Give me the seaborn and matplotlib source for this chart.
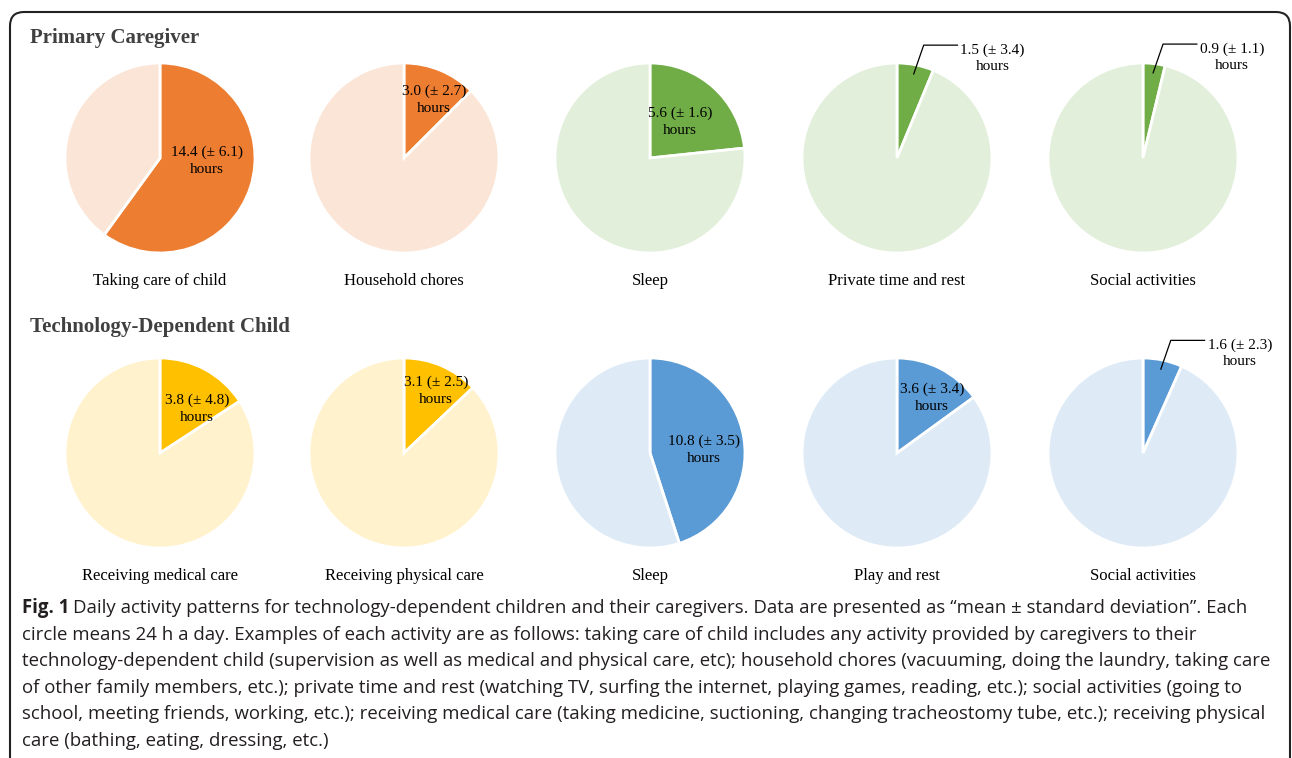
import numpy as np
import matplotlib
matplotlib.use("Agg")
import matplotlib.pyplot as plt
import seaborn as sns
from matplotlib.patches import FancyBboxPatch

sns.set_theme(style="white")
plt.rcParams['font.family'] = ['Liberation Serif', 'DejaVu Serif']

# daily hours (mean, sd), each pie = 24 h
TOTAL = 24
carer_labels = ["Taking care of child", "Household chores", "Sleep",
                "Private time and rest", "Social activities"]
carer_mean = [14.4, 3.0, 5.6, 1.5, 0.9]
carer_sd = [6.1, 2.7, 1.6, 3.4, 1.1]

child_labels = ["Receiving medical care", "Receiving physical care", "Sleep",
                "Play and rest", "Social activities"]
child_mean = [3.8, 3.1, 10.8, 3.6, 1.6]
child_sd = [4.8, 2.5, 3.5, 3.4, 2.3]

row_titles = ["Primary Caregiver", "Technology-Dependent Child"]

caption_lines = [
    "Daily activity patterns for technology-dependent children and their caregivers. Data are presented as \u201cmean \u00b1 standard deviation\u201d. Each",
    "circle means 24 h a day. Examples of each activity are as follows: taking care of child includes any activity provided by caregivers to their",
    "technology-dependent child (supervision as well as medical and physical care, etc); household chores (vacuuming, doing the laundry, taking care",
    "of other family members, etc.); private time and rest (watching TV, surfing the internet, playing games, reading, etc.); social activities (going to",
    "school, meeting friends, working, etc.); receiving medical care (taking medicine, suctioning, changing tracheostomy tube, etc.); receiving physical",
    "care (bathing, eating, dressing, etc.)",
]

# colours (dark slice, light remainder)
colors = [
    [("#ED7D31", "#FBE5D6"), ("#ED7D31", "#FBE5D6"), ("#70AD47", "#E2EFDA"),
     ("#70AD47", "#E2EFDA"), ("#70AD47", "#E2EFDA")],
    [("#FFC000", "#FFF2CC"), ("#FFC000", "#FFF2CC"), ("#5B9BD5", "#DEEBF7"),
     ("#5B9BD5", "#DEEBF7"), ("#5B9BD5", "#DEEBF7")],
]

# layout (pixel coords, y from top)
W, H = 1292, 758
col_x = [160, 404, 650, 897, 1143]
row_y = [158, 453]
title_y = [38, 327]
R = 95
# label offsets from pie centre for inside labels, None = outside leader label
label_off = [
    [(47, 3), (30, -58), (30, -36), None, None],
    [(37, -44), (32, -62), (54, -3), (35, -55), None],
]

fig = plt.figure(figsize=(W / 100, H / 100), dpi=100)
ax = fig.add_axes([0, 0, 1, 1])


def Y(y):
    return H - y


rows = [(carer_labels, carer_mean, carer_sd), (child_labels, child_mean, child_sd)]
for r, (labels, means, sds) in enumerate(rows):
    for c in range(5):
        cx, cy = col_x[c], row_y[r]
        m, s = means[c], sds[c]
        ax.pie([m, TOTAL - m], colors=list(colors[r][c]), startangle=90,
               counterclock=False, center=(cx, Y(cy)), radius=R, frame=True,
               wedgeprops=dict(edgecolor="white", linewidth=2))
        txt = f"{m:.1f} (\u00b1 {s:.1f})\nhours"
        off = label_off[r][c]
        if off is not None:
            ax.text(cx + off[0], Y(cy + off[1]), txt, ha="center", va="center",
                    fontsize=11, color="black", linespacing=1.35)
        else:
            mid = np.deg2rad(90 - m / TOTAL * 360 / 2)
            px = cx + 0.9 * R * np.cos(mid)
            py = cy - 0.9 * R * np.sin(mid)
            ex, ey = px + 10, py - 29
            ax.plot([px, ex, ex + 34], [Y(py), Y(ey), Y(ey)], color="black", lw=0.9)
            ax.text(ex + 69, Y(ey + 13), txt, ha="center", va="center",
                    fontsize=11, color="black", linespacing=1.35)
        ax.text(cx, Y(cy + 123), labels[c], ha="center", va="center",
                fontsize=12, color="black")
    ax.text(30, Y(title_y[r]), row_titles[r], ha="left", va="center",
            fontsize=15, fontweight="bold", color="#404040")

# frame
box = FancyBboxPatch((10, Y(800)), 1280, 800 - 12,
                     boxstyle="round,pad=0,rounding_size=14",
                     fill=False, edgecolor="#222222", lw=1.5)
ax.add_patch(box)

ax.set_xlim(0, W)
ax.set_ylim(0, H)
ax.set_aspect("equal")
ax.axis("off")

# caption
cap_font = ['Open Sans', 'DejaVu Sans']
cap_size = 13.4
cap_y = [608, 635, 661, 688, 714, 741]
fig.canvas.draw()
rend = fig.canvas.get_renderer()
t = ax.text(22, Y(cap_y[0]), "Fig. 1", ha="left", va="center", fontsize=cap_size,
            fontweight="bold", family=cap_font, color="#231f20")
bb = t.get_window_extent(renderer=rend)
ax.text(bb.x1 + 4, Y(cap_y[0]), caption_lines[0], ha="left", va="center",
        fontsize=cap_size, family=cap_font, color="#231f20")
for y, line in zip(cap_y[1:], caption_lines[1:]):
    ax.text(22, Y(y), line, ha="left", va="center", fontsize=cap_size,
            family=cap_font, color="#231f20")

fig.savefig("out.png", dpi=100)
